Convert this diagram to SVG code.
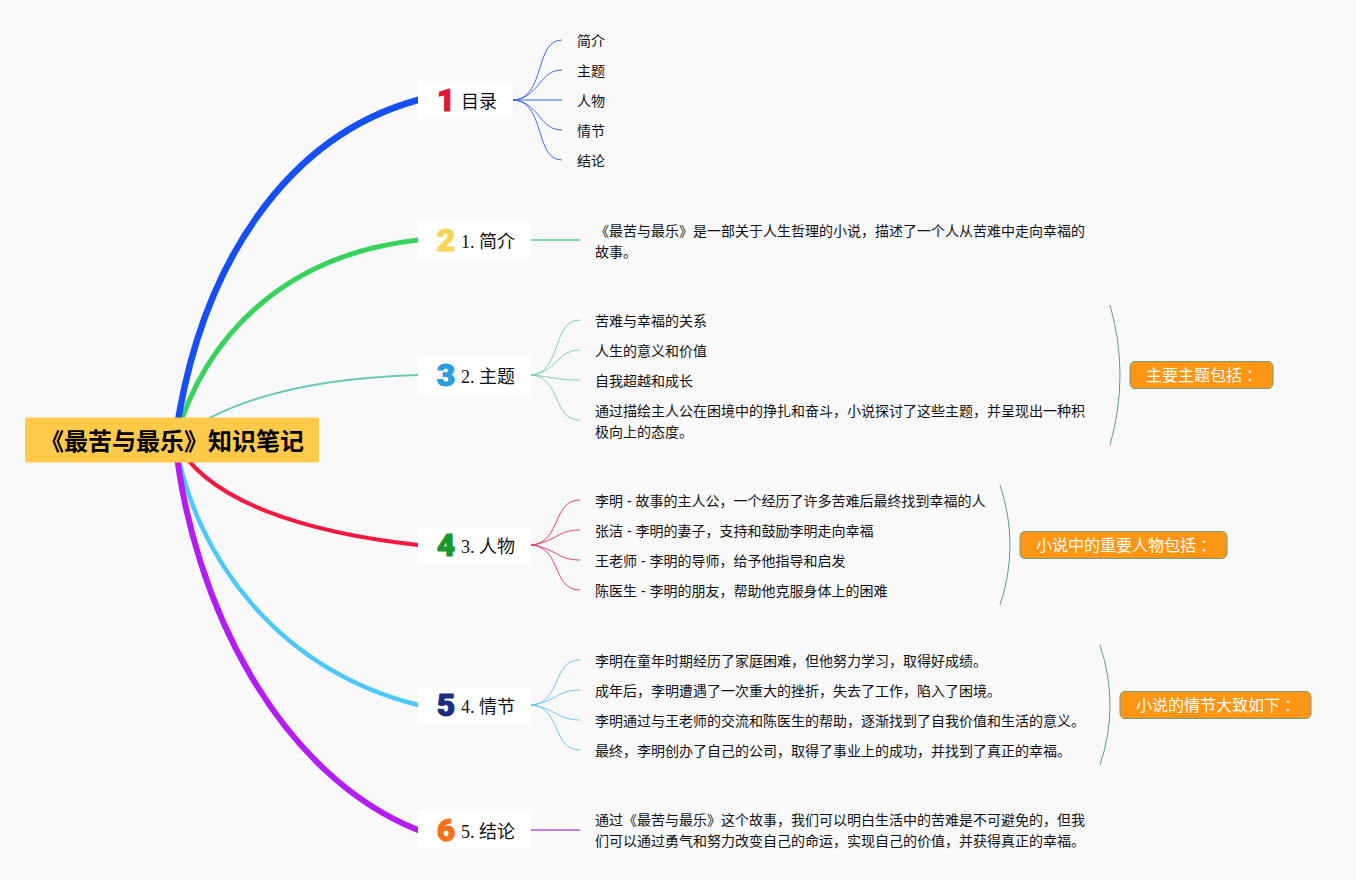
<svg xmlns="http://www.w3.org/2000/svg" width="1356" height="880" viewBox="0 0 1356 880">
<style>
text{font-family:"Liberation Sans","Noto Sans CJK SC",sans-serif;dominant-baseline:central}
.bg{fill:#f9f9f9}
.main{fill:none;stroke-linecap:round}
.kid{fill:none;stroke-width:1}
.stub{fill:none;stroke-width:2}
.card{fill:#fff}
.lbl{font-family:"Liberation Serif","Noto Sans CJK SC",serif;font-size:18px;fill:#111}
.t{font-size:14px;fill:#111}
.num{font-family:Roboto,sans-serif;font-weight:900;font-size:32px;stroke-width:1;stroke-linejoin:round;text-anchor:middle}
.tag{fill:#ff9514;stroke:#6f9d80;stroke-width:1}
.tagt{font-size:16px;fill:#fff}
.colon{font-family:"Noto Sans CJK TC",sans-serif}
.br{fill:none;stroke:#5f9c8c;stroke-width:1}
</style>
<rect class="bg" width="1356" height="880"/>
<g id="connectors">
<path class="main" stroke="#68c8b4" stroke-width="2" d="M175 440C232 395 320 378 418 375"/>
<path class="main" stroke="#37d35d" stroke-width="5" d="M175 440C205 335 285 255 418 240"/>
<path class="main" stroke="#1650f5" stroke-width="6.500" d="M175 440C200 260 290 135 418 100"/>
<path class="main" stroke="#f5173f" stroke-width="4" d="M175 440C206 503 310 533 418 545"/>
<path class="main" stroke="#4cc8fb" stroke-width="4.500" d="M175 440C195 560 280 670 418 705"/>
<path class="main" stroke="#b41cf5" stroke-width="6" d="M175 440C192 605 280 775 418 830"/>
<g stroke="#3d6be8">
<path class="stub" d="M513 100H520"/>
<path class="kid" d="M516 100C545 95 535 40 562 40"/>
<path class="kid" d="M516 100C540 95 540 70 562 70"/>
<path class="kid" stroke-width="1.200" d="M516 100H562"/>
<path class="kid" d="M516 100C540 105 540 130 562 130"/>
<path class="kid" d="M516 100C545 105 535 160 562 160"/>
</g>
<path class="stub" stroke="#7fd8a0" d="M531 240H580"/>
<g stroke="#7fcfb8">
<path class="stub" d="M531 375H537"/>
<path class="kid" d="M533 375C562 370 552 320 580 320"/>
<path class="kid" d="M533 375C558 370 558 350 580 350"/>
<path class="kid" d="M533 375C558 378 558 380 580 380"/>
<path class="kid" d="M533 375C562 380 552 420 580 420"/>
</g>
<g stroke="#e8436a">
<path class="stub" d="M531 545H537"/>
<path class="kid" d="M533 545C562 540 552 500 580 500"/>
<path class="kid" d="M533 545C558 540 558 530 580 530"/>
<path class="kid" d="M533 545C558 550 558 560 580 560"/>
<path class="kid" d="M533 545C562 550 552 590 580 590"/>
</g>
<g stroke="#6cc8f2">
<path class="stub" d="M531 705H537"/>
<path class="kid" d="M533 705C562 700 552 660 580 660"/>
<path class="kid" d="M533 705C558 700 558 690 580 690"/>
<path class="kid" d="M533 705C558 710 558 720 580 720"/>
<path class="kid" d="M533 705C562 710 552 750 580 750"/>
</g>
<path class="stub" stroke="#c77ce8" d="M531 830H580"/>
<path class="br" d="M1110 305Q1130 375 1110 445"/>
<path class="br" d="M1000 485Q1020 545 1000 605"/>
<path class="br" d="M1100 645Q1120 705 1100 765"/>
</g>
<g id="root"><rect x="25" y="417.500" width="294" height="45" rx="2" fill="#ffc94a"/><text x="40" y="441" font-size="24" font-weight="700" fill="#000">《最苦与最乐》知识笔记</text></g>
<g id="n1"><rect class="card" x="418" y="81" width="95" height="38" rx="2"/><text class="num" x="446" y="100" fill="#dc1a34" stroke="#dc1a34">1</text><text class="lbl" x="461" y="102">目录</text></g>
<g id="n2"><rect class="card" x="418" y="221" width="113" height="38" rx="2"/><text class="num" x="446" y="240" fill="#f5d654" stroke="#f5d654">2</text><text class="lbl" x="461" y="242">1. 简介</text></g>
<g id="n3"><rect class="card" x="418" y="356" width="113" height="38" rx="2"/><text class="num" x="446" y="375" fill="#2a9ee0" stroke="#2a9ee0">3</text><text class="lbl" x="461" y="377">2. 主题</text></g>
<g id="n4"><rect class="card" x="418" y="527" width="113" height="37" rx="2"/><text class="num" x="446" y="545" fill="#16962c" stroke="#16962c">4</text><text class="lbl" x="461" y="547">3. 人物</text></g>
<g id="n5"><rect class="card" x="418" y="687" width="113" height="37" rx="2"/><text class="num" x="446" y="705" fill="#1a2d80" stroke="#1a2d80">5</text><text class="lbl" x="461" y="707">4. 情节</text></g>
<g id="n6"><rect class="card" x="418" y="811" width="113" height="38" rx="2"/><text class="num" x="446" y="830" fill="#f4711a" stroke="#f4711a">6</text><text class="lbl" x="461" y="832">5. 结论</text></g>
<g id="n1-kids"><text class="t" x="577" y="41">简介</text><text class="t" x="577" y="71">主题</text><text class="t" x="577" y="101">人物</text><text class="t" x="577" y="131">情节</text><text class="t" x="577" y="161">结论</text></g>
<g id="n2-kid"><text class="t" x="595" y="231">《最苦与最乐》是一部关于人生哲理的小说，描述了一个人从苦难中走向幸福的</text><text class="t" x="595" y="252">故事。</text></g>
<g id="n3-kids"><text class="t" x="595" y="321">苦难与幸福的关系</text><text class="t" x="595" y="351">人生的意义和价值</text><text class="t" x="595" y="381">自我超越和成长</text><text class="t" x="595" y="411">通过描绘主人公在困境中的挣扎和奋斗，小说探讨了这些主题，并呈现出一种积</text><text class="t" x="595" y="432">极向上的态度。</text></g>
<g id="n4-kids"><text class="t" x="595" y="501">李明 - 故事的主人公，一个经历了许多苦难后最终找到幸福的人</text><text class="t" x="595" y="531">张洁 - 李明的妻子，支持和鼓励李明走向幸福</text><text class="t" x="595" y="561">王老师 - 李明的导师，给予他指导和启发</text><text class="t" x="595" y="591">陈医生 - 李明的朋友，帮助他克服身体上的困难</text></g>
<g id="n5-kids"><text class="t" x="595" y="661">李明在童年时期经历了家庭困难，但他努力学习，取得好成绩。</text><text class="t" x="595" y="691">成年后，李明遭遇了一次重大的挫折，失去了工作，陷入了困境。</text><text class="t" x="595" y="721">李明通过与王老师的交流和陈医生的帮助，逐渐找到了自我价值和生活的意义。</text><text class="t" x="595" y="751">最终，李明创办了自己的公司，取得了事业上的成功，并找到了真正的幸福。</text></g>
<g id="n6-kid"><text class="t" x="595" y="820">通过《最苦与最乐》这个故事，我们可以明白生活中的苦难是不可避免的，但我</text><text class="t" x="595" y="841">们可以通过勇气和努力改变自己的命运，实现自己的价值，并获得真正的幸福。</text></g>
<g id="tag1"><rect class="tag" x="1130" y="361.500" width="143" height="27" rx="5"/><text class="tagt" x="1146" y="375">主要主题包括<tspan class="colon">：</tspan></text></g>
<g id="tag2"><rect class="tag" x="1020" y="531.500" width="207" height="27" rx="5"/><text class="tagt" x="1036" y="545">小说中的重要人物包括<tspan class="colon">：</tspan></text></g>
<g id="tag3"><rect class="tag" x="1120" y="691.500" width="191" height="27" rx="5"/><text class="tagt" x="1136" y="705">小说的情节大致如下<tspan class="colon">：</tspan></text></g>
</svg>
